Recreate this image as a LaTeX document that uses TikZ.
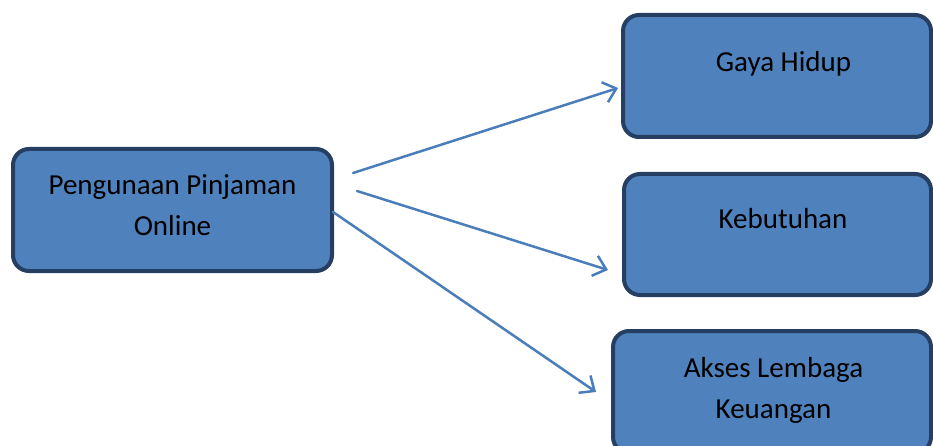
\documentclass[tikz,border=0pt]{standalone}
\usepackage{fontspec}
\setmainfont{Carlito}
\usetikzlibrary{arrows.meta}
\definecolor{boxfill}{RGB}{79,129,189}
\definecolor{boxline}{RGB}{37,62,98}
\definecolor{arrowcol}{RGB}{74,126,187}
\begin{document}
\begin{tikzpicture}[x=1pt,y=-1pt,
  box/.style={draw=boxline, fill=boxfill, line width=4pt, rounded corners=16pt, inner sep=0pt},
  txt/.style={font=\fontsize{29}{36}\selectfont, text=black, anchor=base, inner sep=0pt},
  arr/.style={draw=arrowcol, line width=2.5pt, line cap=round, -{Straight Barb[length=12pt,width=21pt,line width=2.5pt]}}]
\useasboundingbox (0,0) rectangle (933,446);
\clip (0,0) rectangle (933,446);
\node[box, minimum width=308pt, minimum height=122pt] (gaya) at (777,76) {};
\node[box, minimum width=307pt, minimum height=121pt] (kebu) at (777.5,234.5) {};
\node[box, minimum width=318pt, minimum height=122pt] (akses) at (772,392) {};
\node[box, minimum width=319pt, minimum height=122pt] (src) at (172.5,210) {};
\node[txt] (srcA) at (172.5,195) {Pengunaan Pinjaman};
\node[txt] (srcB) at (172.5,236) {Online};
\node[txt] (gayaT) at (783.5,72) {Gaya Hidup};
\node[txt] (kebuT) at (783,229) {Kebutuhan};
\node[txt] (aksesA) at (773.5,377) {Akses Lembaga};
\node[txt] (aksesB) at (773.5,418) {Keuangan};
\coordinate (s1) at (353,173);
\coordinate (e1) at (618,88);
\coordinate (s2) at (357,191);
\coordinate (e2) at (608,270);
\coordinate (s3) at (333,212);
\coordinate (e3) at (596,392);
\draw[arr] (s1) -- (e1);
\draw[arr] (s2) -- (e2);
\draw[arr] (s3) -- (e3);
\end{tikzpicture}
\end{document}
